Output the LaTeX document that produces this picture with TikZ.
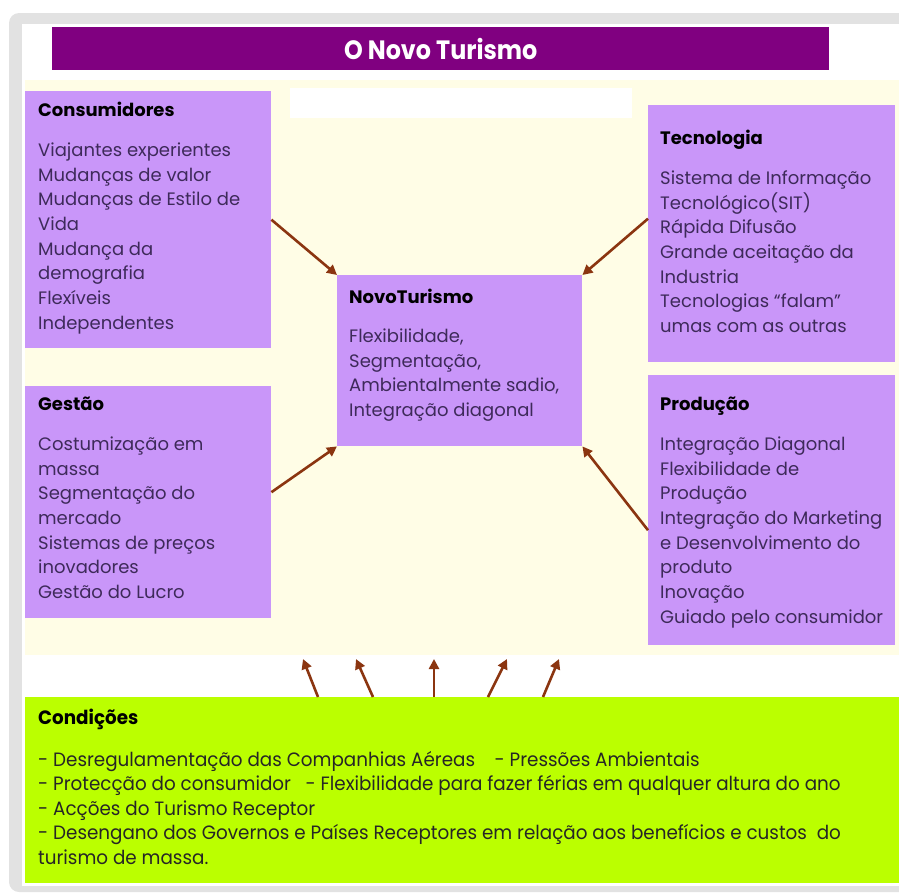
\documentclass[tikz,border=0pt]{standalone}
\usepackage{fontspec}
\setmainfont{Poppins}
\newfontfamily\narrowfont[FakeStretch=0.95]{Poppins}
\newfontfamily\titlefont[FakeStretch=0.9]{Poppins}
\usetikzlibrary{arrows.meta}
\definecolor{titlepurple}{HTML}{800080}
\definecolor{lav}{HTML}{C996F9}
\definecolor{cream}{HTML}{FFFDE6}
\definecolor{limegreen}{HTML}{BBFF00}
\definecolor{arrowbrown}{HTML}{8B3510}
\definecolor{bodytext}{HTML}{3E2A5A}
\definecolor{framegray}{HTML}{E2E2E2}
\begin{document}
\begin{tikzpicture}[x=1pt,y=-1pt,
  pbox/.style={fill=lav, draw=none, anchor=north west, inner sep=0},
  blocktext/.style={anchor=north west, inner sep=0, align=left, text=bodytext,
    font=\fontsize{18}{24.7}\selectfont},
  condtext/.style={anchor=north west, inner sep=0, align=left, text=black!85,
    font=\narrowfont\fontsize{19.3}{24.5}\selectfont},
  flow/.style={draw=arrowbrown, line width=2.6pt, -{Triangle[length=10pt,width=10pt]}}]
\useasboundingbox (0,0) rectangle (899,894);
% frame
\fill[framegray, rounded corners=10pt] (9,13) rectangle (915,892);
\fill[white] (22,24) rectangle (899,886);
% cream area
\fill[cream] (25,80) rectangle (899,655);
% title
\node[fill=titlepurple, anchor=north west, minimum width=777pt, minimum height=43pt, inner sep=0,
  text=white, font=\titlefont\bfseries\fontsize{26.5}{30}\selectfont] (title) at (52,27) {O Novo Turismo};
% blank white strip
\node[fill=white, anchor=north west, minimum width=342pt, minimum height=30pt, inner sep=0] (blank) at (290,88) {};
% boxes
\node[pbox, minimum width=246pt, minimum height=257pt] (cons) at (25,91) {};
\node[pbox, minimum width=247pt, minimum height=257pt] (tec) at (648,105) {};
\node[pbox, minimum width=246pt, minimum height=232pt] (gest) at (25,386) {};
\node[pbox, minimum width=247pt, minimum height=270pt] (prod) at (648,375) {};
\node[pbox, minimum width=245pt, minimum height=171pt] (novo) at (337,275) {};
\node[fill=limegreen, anchor=north west, minimum width=874pt, minimum height=186pt, inner sep=0] (cond) at (25,697) {};
% texts
\node[blocktext] (consT) at (38,102) {{\bfseries\color{black}Consumidores}\\[15pt]
Viajantes experientes\\ Mudanças de valor\\ Mudanças de Estilo de\\ Vida\\ Mudança da\\ demografia\\ Flexíveis\\ Independentes};
\node[blocktext] (tecT) at (660,130) {{\bfseries\color{black}Tecnologia}\\[15pt]
Sistema de Informação\\ Tecnológico(SIT)\\ Rápida Difusão\\ Grande aceitação da\\ Industria\\ Tecnologias “falam”\\ umas com as outras};
\node[blocktext] (novoT) at (349,289) {{\bfseries\color{black}NovoTurismo}\\[14pt]
Flexibilidade,\\ Segmentação,\\ Ambientalmente sadio,\\ Integração diagonal};
\node[blocktext] (gestT) at (38,397) {{\bfseries\color{black}Gestão}\\[15pt]
Costumização em\\ massa\\ Segmentação do\\ mercado\\ Sistemas de preços\\ inovadores\\ Gestão do Lucro};
\node[blocktext] (prodT) at (660,397) {{\bfseries\color{black}Produção}\\[15pt]
Integração Diagonal\\ Flexibilidade de\\ Produção\\ Integração do Marketing\\ e Desenvolvimento do\\ produto\\ Inovação\\ Guiado pelo consumidor};
\node[condtext] (condT) at (38,709) {{\bfseries\color{black}Condições}\\[17pt]
- Desregulamentação das Companhias Aéreas \ \ \ - Pressões Ambientais\\
- Protecção do consumidor \ \ - Flexibilidade para fazer férias em qualquer altura do ano\\
- Acções do Turismo Receptor\\
- Desengano dos Governos e Países Receptores em relação aos benefícios e custos \ do\\
turismo de massa.};
% arrows to centre
\draw[flow] (cons.east) -- (novo.north west);
\draw[flow] ([yshift=15pt]tec.west) -- (novo.north east);
\draw[flow] ([yshift=10pt]gest.east) -- (novo.south west);
\draw[flow] ([yshift=-20pt]prod.west) -- (novo.south east);
% arrows from conditions
\coordinate (t1) at (303,659);
\coordinate (t2) at (356,659);
\coordinate (t3) at (434,659);
\coordinate (t4) at (507,659);
\coordinate (t5) at (559,659);
\draw[flow] ([xshift=293pt]cond.north west) -- (t1);
\draw[flow] ([xshift=348pt]cond.north west) -- (t2);
\draw[flow] ([xshift=409pt]cond.north west) -- (t3);
\draw[flow] ([xshift=463pt]cond.north west) -- (t4);
\draw[flow] ([xshift=518pt]cond.north west) -- (t5);
\end{tikzpicture}
\end{document}
